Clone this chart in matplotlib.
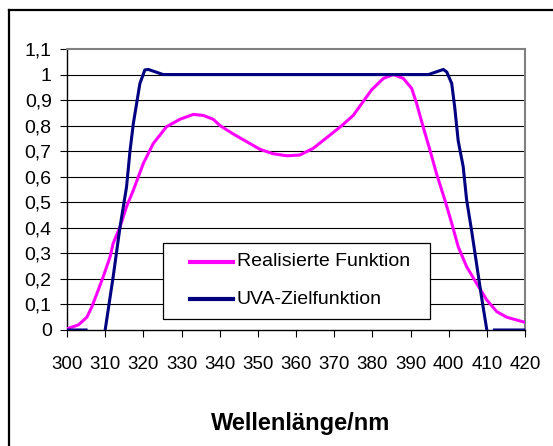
import matplotlib
matplotlib.use("Agg")
import matplotlib.pyplot as plt
from matplotlib.lines import Line2D
from matplotlib.patches import Rectangle
import numpy as np

# --- data --------------------------------------------------------------------
real_x = [300, 303, 305.2, 306.5, 308.2, 309.5, 311.3, 312.1, 313.9, 315.6,
          317.4, 320, 322.6, 326.1, 329.6, 333.1, 335.7, 338.3, 340.1, 343.6,
          347.1, 350.6, 354, 357.6, 361, 364.5, 368.9, 372, 375, 379.8,
          382.9, 385.5, 388.1, 390.3, 391.6, 393.3, 395.1, 396.8, 399, 400.8,
          402.5, 404.7, 407.3, 410, 412.6, 415.2, 420]
real_y = [0.005, 0.02, 0.05, 0.09, 0.157, 0.209, 0.287, 0.339, 0.404, 0.483,
          0.548, 0.652, 0.73, 0.796, 0.825, 0.844, 0.84, 0.825, 0.80, 0.767,
          0.737, 0.707, 0.69, 0.682, 0.685, 0.711, 0.763, 0.80, 0.84, 0.94,
          0.985, 1.0, 0.985, 0.946, 0.887, 0.796, 0.704, 0.613, 0.509, 0.418,
          0.326, 0.248, 0.183, 0.117, 0.072, 0.05, 0.03]

# NaN = stretch where the target line is hidden behind the x axis
ziel_x = [300, 305, 307, 310, 312.1, 313.9, 315.6, 316.5, 317.4, 319.1, 320.4,
          321.3, 325.2, 394.7, 398.6, 399.5, 400.8, 401.6, 402.5, 403.8, 404.7,
          406, 407.3, 408.6, 410, 411, 412, 420]
ziel_y = [0, 0, np.nan, 0, 0.209, 0.404, 0.56, 0.70, 0.81, 0.965, 1.018,
          1.02, 1.0, 1.0, 1.02, 1.01, 0.965, 0.87, 0.74, 0.64, 0.51,
          0.39, 0.26, 0.13, 0, np.nan, 0, 0]

x_ticks = list(range(300, 421, 10))
y_ticks = [round(0.1 * i, 1) for i in range(12)]
y_labels = ["0", "0,1", "0,2", "0,3", "0,4", "0,5", "0,6", "0,7", "0,8", "0,9", "1", "1,1"]

labels = ["Realisierte Funktion", "UVA-Zielfunktion"]
colors = ["#FF00FF", "#000080"]

W, H = 553, 446
plt.rcParams["font.family"] = ["Liberation Sans", "DejaVu Sans"]

fig = plt.figure(figsize=(W / 100, H / 100), dpi=100)
ax = fig.add_axes([67 / W, 1 - 330 / H, 458 / W, 281 / H])

ax.plot(real_x, real_y, color=colors[0], lw=2.2, zorder=3)
ax.plot(ziel_x, ziel_y, color=colors[1], lw=2.2, zorder=3)

ax.set_xlim(300, 420)
ax.set_ylim(0, 1.1)
ax.set_xticks(x_ticks)
ax.set_yticks(y_ticks)
ax.set_yticklabels(y_labels)
ax.tick_params(axis="both", direction="out", length=5, width=0.8, color="black")
ax.tick_params(axis="x", pad=14, labelsize=13.5)
ax.tick_params(axis="y", pad=6, labelsize=14)

for yv in y_ticks[1:-1]:
    ax.axhline(yv, color="black", lw=0.8, zorder=1)
for side in ("top", "right"):
    ax.spines[side].set_color("#808080")
    ax.spines[side].set_linewidth(1.5)
for side in ("bottom", "left"):
    ax.spines[side].set_color("black")
    ax.spines[side].set_linewidth(1.0)

# legend box, drawn by hand in figure pixels (Excel-style layout)
def fx(px):
    return px / W

def fy(py):
    return 1 - py / H

fig.add_artist(Rectangle((fx(163), fy(319)), fx(430) - fx(163), fy(243) - fy(319),
                         facecolor="white", edgecolor="black", lw=0.9, zorder=5))
for i, (lab, col) in enumerate(zip(labels, colors)):
    yrow = 262 + 37 * i
    fig.add_artist(Line2D([fx(190), fx(233)], [fy(yrow), fy(yrow)], color=col,
                          lw=3, zorder=6))
    fig.text(fx(237), fy(yrow), lab, fontsize=14, va="center", ha="left", zorder=6)

fig.text(301 / W, 1 - 430 / H, "Wellenlänge/nm", ha="center", va="baseline",
         fontsize=17, fontweight="bold")

# outer chart frame (only the top and left edges survive the crop)
fig.add_artist(Line2D([fx(8.5), fx(8.5)], [0, fy(10)], color="black", lw=1.6))
fig.add_artist(Line2D([fx(8.5), 1], [fy(10), fy(10)], color="black", lw=1.6))

fig.savefig("out.png", dpi=100)
